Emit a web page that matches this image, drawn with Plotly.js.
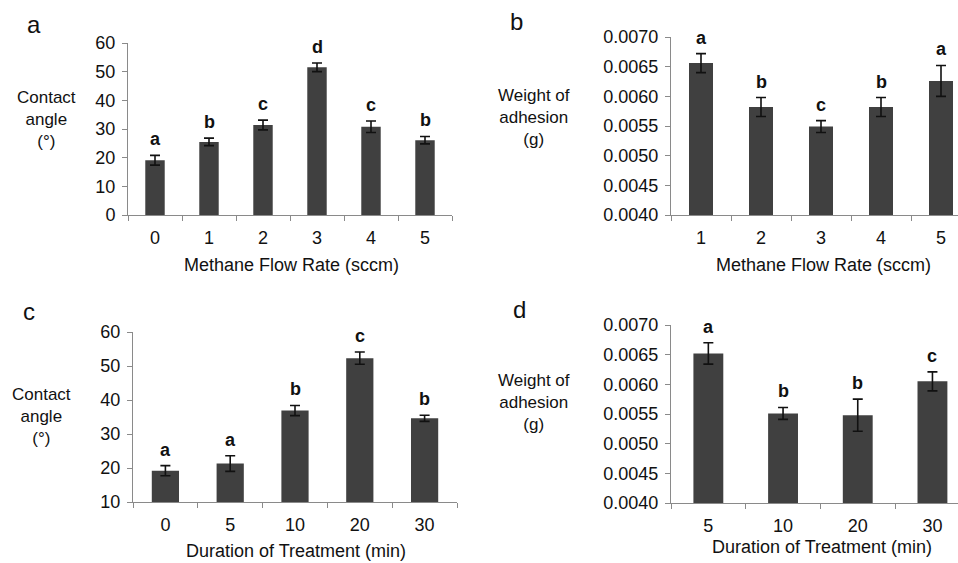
<!DOCTYPE html>
<html>
<head>
<meta charset="utf-8">
<script src="https://cdn.plot.ly/plotly-3.0.1.min.js"></script>
<style>html,body{margin:0;padding:0;background:#fff}#chart{width:958px;height:563px}</style>
</head>
<body>
<div id="chart"></div>
<script>
// Panel a: contact angle vs methane flow rate
const catsA = ['0', '1', '2', '3', '4', '5'];
const valsA = [19.1, 25.5, 31.4, 51.5, 30.8, 26.1];
const errsA = [1.7, 1.3, 1.7, 1.5, 2.0, 1.3];
const lettersA = ['a', 'b', 'c', 'd', 'c', 'b'];

// Panel b: weight of adhesion vs methane flow rate
const catsB = ['1', '2', '3', '4', '5'];
const valsB = [0.00656, 0.00582, 0.00549, 0.00582, 0.00626];
const errsB = [0.00016, 0.00016, 0.00010, 0.00016, 0.00026];
const lettersB = ['a', 'b', 'c', 'b', 'a'];

// Panel c: contact angle vs duration of treatment
const catsC = ['0', '5', '10', '20', '30'];
const valsC = [19.2, 21.3, 36.9, 52.3, 34.6];
const errsC = [1.5, 2.3, 1.5, 1.8, 0.9];
const lettersC = ['a', 'a', 'b', 'c', 'b'];

// Panel d: weight of adhesion vs duration of treatment
const catsD = ['5', '10', '20', '30'];
const valsD = [0.00652, 0.00551, 0.00548, 0.00605];
const errsD = [0.00018, 0.00010, 0.00027, 0.00016];
const lettersD = ['a', 'b', 'b', 'c'];

const FONT = 'Liberation Sans, Arial, sans-serif';
const TXT = '#111';
const BAR = '#404040';
const AX = '#8a8a8a';
const W = 958, H = 563;
const px = x => x / W;
const py = y => 1 - y / H;

function barTrace(cats, vals, errs, xa, ya, width) {
  return {
    type: 'bar', x: cats, y: vals, xaxis: xa, yaxis: ya,
    width: width,
    marker: {color: BAR, line: {width: 0}},
    error_y: {type: 'data', array: errs, visible: true, color: '#111', thickness: 1.6, width: 5},
    hoverinfo: 'none', showlegend: false
  };
}

const data = [
  barTrace(catsA, valsA, errsA, 'x', 'y', 0.36),
  barTrace(catsB, valsB, errsB, 'x2', 'y2', 0.40),
  barTrace(catsC, valsC, errsC, 'x3', 'y3', 0.42),
  barTrace(catsD, valsD, errsD, 'x4', 'y4', 0.40)
];

function xAxis(domain, range, anchor) {
  return {
    type: 'category', domain: domain, range: range, anchor: anchor,
    showline: true, linecolor: AX, linewidth: 1,
    ticks: 'outside', ticklen: 5, tickcolor: AX, tickwidth: 1,
    tickson: 'boundaries', showgrid: false, zeroline: false,
    ticklabelstandoff: 6,
    tickfont: {family: FONT, size: 18, color: TXT}, fixedrange: true
  };
}
function yAxis(domain, range, dtick, fmt, anchor) {
  return {
    domain: domain, range: range, dtick: dtick, tick0: range[0], tickformat: fmt, anchor: anchor,
    showline: true, linecolor: AX, linewidth: 1,
    ticks: 'outside', ticklen: 5, tickcolor: AX, tickwidth: 1,
    showgrid: false, zeroline: false,
    ticklabelstandoff: 3,
    tickfont: {family: FONT, size: 18, color: TXT}, fixedrange: true
  };
}

const annotations = [];
function letters(cats, vals, errs, lets, xa, ya) {
  // x given as category index so the label sits on its own bar
  cats.forEach((c, i) => annotations.push({
    xref: xa, yref: ya, x: i, y: vals[i] + errs[i], text: lets[i],
    showarrow: false, yanchor: 'bottom', yshift: 4,
    font: {family: FONT, size: 18, color: TXT, weight: 'bold'}
  }));
}
letters(catsA, valsA, errsA, lettersA, 'x', 'y');
letters(catsB, valsB, errsB, lettersB, 'x2', 'y2');
letters(catsC, valsC, errsC, lettersC, 'x3', 'y3');
letters(catsD, valsD, errsD, lettersD, 'x4', 'y4');

function txt(x, y, text, size) {
  annotations.push({xref: 'paper', yref: 'paper', x: px(x), y: py(y), text: text,
    showarrow: false, xanchor: 'center', yanchor: 'middle', align: 'center',
    font: {family: FONT, size: size, color: TXT}});
}
// panel letters
txt(34, 24, 'a', 24);
txt(516, 22, 'b', 24);
txt(29, 311, 'c', 24);
txt(519, 309, 'd', 24);
// y titles
txt(46, 120, 'Contact<br>angle<br>(°)', 17);
txt(534, 117, 'Weight of<br>adhesion<br>(g)', 17);
txt(41, 416, 'Contact<br>angle<br>(°)', 17);
txt(534, 402, 'Weight of<br>adhesion<br>(g)', 17);
// x titles
txt(291, 265, 'Methane Flow Rate (sccm)', 18);
txt(823, 265, 'Methane Flow Rate (sccm)', 18);
txt(296, 551, 'Duration of Treatment (min)', 18);
txt(822, 547, 'Duration of Treatment (min)', 18);

const layout = {
  width: W, height: H,
  margin: {l: 0, r: 0, t: 0, b: 0},
  paper_bgcolor: '#fff', plot_bgcolor: '#fff',
  bargap: 0.6,
  xaxis: xAxis([px(128), px(452)], [-0.5, 5.5], 'y'),
  yaxis: yAxis([py(215), py(43)], [0, 60], 10, 'd', 'x'),
  xaxis2: xAxis([px(671), 1], [-0.5, -0.5 + 287 / 60], 'y2'),
  yaxis2: yAxis([py(215), py(37)], [0.004, 0.007], 0.0005, '.4f', 'x2'),
  xaxis3: xAxis([px(133), px(457)], [-0.5, 4.5], 'y3'),
  yaxis3: yAxis([py(502), py(332)], [10, 60], 10, 'd', 'x3'),
  xaxis4: xAxis([px(671), 1], [-0.5, -0.5 + 287 / 74.7], 'y4'),
  yaxis4: yAxis([py(503), py(325)], [0.004, 0.007], 0.0005, '.4f', 'x4'),
  annotations: annotations,
  showlegend: false
};

Plotly.newPlot('chart', data, layout, {staticPlot: true, displayModeBar: false});
</script>
</body>
</html>
